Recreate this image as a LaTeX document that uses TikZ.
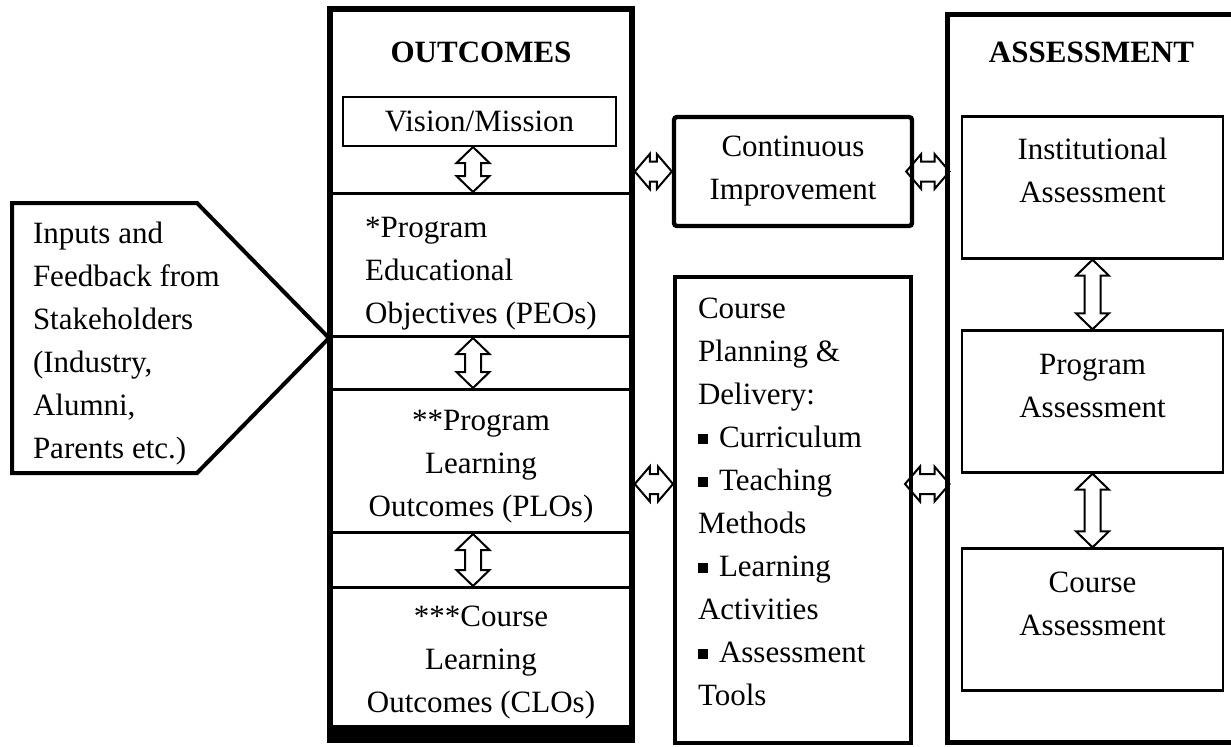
\documentclass[tikz,border=0pt]{standalone}
\usepackage{fontspec}
\setmainfont{Liberation Serif}
\usetikzlibrary{positioning,calc}
\pgfdeclarelayer{background}
\pgfsetlayers{background,main}
\newcommand{\sqbullet}{\raisebox{2pt}{\rule{5pt}{5pt}}\hspace{5.5pt}}
% hollow block arrows between two anchors
\newcommand{\vlink}[2]{%
  \draw[linkarrow] let \p1=(#1), \p2=(#2) in
    (\x1,\y1) -- ++(8.25pt,-8pt) -- ++(-4.25pt,0pt) -- (\x1+4pt,\y2+8pt)
    -- ++(4.25pt,0pt) -- (\x1,\y2) -- ++(-8.25pt,8pt) -- ++(4.25pt,0pt)
    -- (\x1-4pt,\y1-8pt) -- ++(-4.25pt,0pt) -- cycle;}
\newcommand{\hlink}[2]{%
  \draw[linkarrow] let \p1=(#1), \p2=(#2) in
    (\x1,\y1) -- ++(7.5pt,8.75pt) -- ++(0pt,-3.75pt) -- (\x2-7.5pt,\y1+5pt)
    -- ++(0pt,3.75pt) -- (\x2,\y1) -- ++(-7.5pt,-8.75pt) -- ++(0pt,3.75pt)
    -- (\x1+7.5pt,\y1-5pt) -- ++(0pt,-3.75pt) -- cycle;}
\tikzset{%
  % Specifications for style of nodes:
          base/.style = {rectangle, draw=black, inner sep=0pt},
      framebox/.style = {base, line width=2.75pt},
    sectionbox/.style = {base, line width=1.5pt, minimum width=151pt,
                         minimum height=71.5pt},
      plainbox/.style = {base, line width=1pt},
         cibox/.style = {base, line width=2.2pt, rounded corners=1.5pt},
      innerbox/.style = {base, line width=1.2pt, minimum width=130.5pt,
                         minimum height=71pt},
     textblock/.style = {inner sep=0pt, outer sep=0pt},
    inputshape/.style = {line width=2pt, line join=miter},
     linkarrow/.style = {draw=black, fill=white, line width=1pt, line join=miter},
}
\begin{document}
\begin{tikzpicture}[x=0.5pt, y=-0.5pt, node distance=98pt,
    every node/.style={font=\fontsize{15.5}{21.5}\selectfont}, align=center]
  \useasboundingbox (0,0) rectangle (1231,746);
  % Outcomes column
  \node (peo)       [sectionbox] at (481,265) {};
  \node (plo)       [sectionbox, below of=peo] {};
  \node (clo)       [sectionbox, below of=plo, minimum height=69.5pt] {};
  \node (bar)       [fill=black, minimum width=151pt, minimum height=7pt, inner sep=0pt] at (481,733) {};
  \node (outcomes)  [framebox, minimum width=151pt, minimum height=365.5pt] at (481,374.5) {};
  \node (outtitle)  [textblock, below=17.75pt of outcomes.north] {\textbf{OUTCOMES}};
  \node (vision)    [plainbox, minimum width=136.5pt, minimum height=24.5pt] at (479.5,121.5) {Vision/Mission};
  \node (peotext)   [textblock, align=left, below=12.5pt of peo.north] {*Program\\Educational\\Objectives (PEOs)};
  \node (plotext)   [textblock, below=11pt of plo.north] {**Program\\Learning\\Outcomes (PLOs)};
  \node (clotext)   [textblock, below=10pt of clo.north] {***Course\\Learning\\Outcomes (CLOs)};

  % Stakeholder inputs
  \node (inputs)    [textblock, align=left, anchor=north west] at (33,222) {Inputs and\\Feedback from\\Stakeholders\\(Industry,\\Alumni,\\Parents etc.)};
  \draw[inputshape] (12,203) -- (197,203) -- (329,338) -- (197,473) -- (12,473) -- cycle;

  % Middle column
  \node (ci)        [cibox, minimum width=119pt, minimum height=54.5pt] at (793,171.5) {Continuous\\Improvement};
  \node (plan)      [base, line width=2pt, minimum width=118pt, minimum height=233pt] at (793,510) {};
  \node (plantext)  [textblock, align=left, below right=11.5pt and 12.5pt of plan.north west]
                    {Course\\Planning \&\\Delivery:\\\sqbullet Curriculum\\\sqbullet Teaching\\Methods\\\sqbullet Learning\\Activities\\\sqbullet Assessment\\Tools};

  % Assessment column
  \node (assess)    [base, line width=2.5pt, minimum width=144.5pt, minimum height=364pt] at (1091.5,378) {};
  \node (asstitle)  [textblock, below=15.25pt of assess.north] {\textbf{ASSESSMENT}};
  \node (inst)      [innerbox] at (1092.5,187.5) {};
  \node (prog)      [innerbox, node distance=107pt, below of=inst] {};
  \node (crs)       [innerbox, node distance=109pt, below of=prog] {};
  \node (insttext)  [textblock, below=11.5pt of inst.north] {Institutional\\Assessment};
  \node (progtext)  [textblock, below=12.5pt of prog.north] {Program\\Assessment};
  \node (crstext)   [textblock, below=12.5pt of crs.north] {Course\\Assessment};

  \coordinate (mid) at (0,484);

  % Links
  \begin{pgfonlayer}{background}
  \vlink{[xshift=-3.25pt]vision.south}{peo.north}
  \vlink{[xshift=-4pt]peo.south}{plo.north}
  \vlink{[xshift=-4pt]plo.south}{clo.north}
  \vlink{inst.south}{prog.north}
  \vlink{prog.south}{crs.north}
  \hlink{outcomes.east |- ci.west}{ci.west}
  \hlink{[xshift=-4pt]ci.east}{[xshift=2.5pt]assess.west |- ci.east}
  \hlink{outcomes.east |- mid}{plan.west |- mid}
  \hlink{[xshift=-4pt]plan.east |- mid}{[xshift=2.5pt]assess.west |- mid}
  \end{pgfonlayer}
\end{tikzpicture}
\end{document}
